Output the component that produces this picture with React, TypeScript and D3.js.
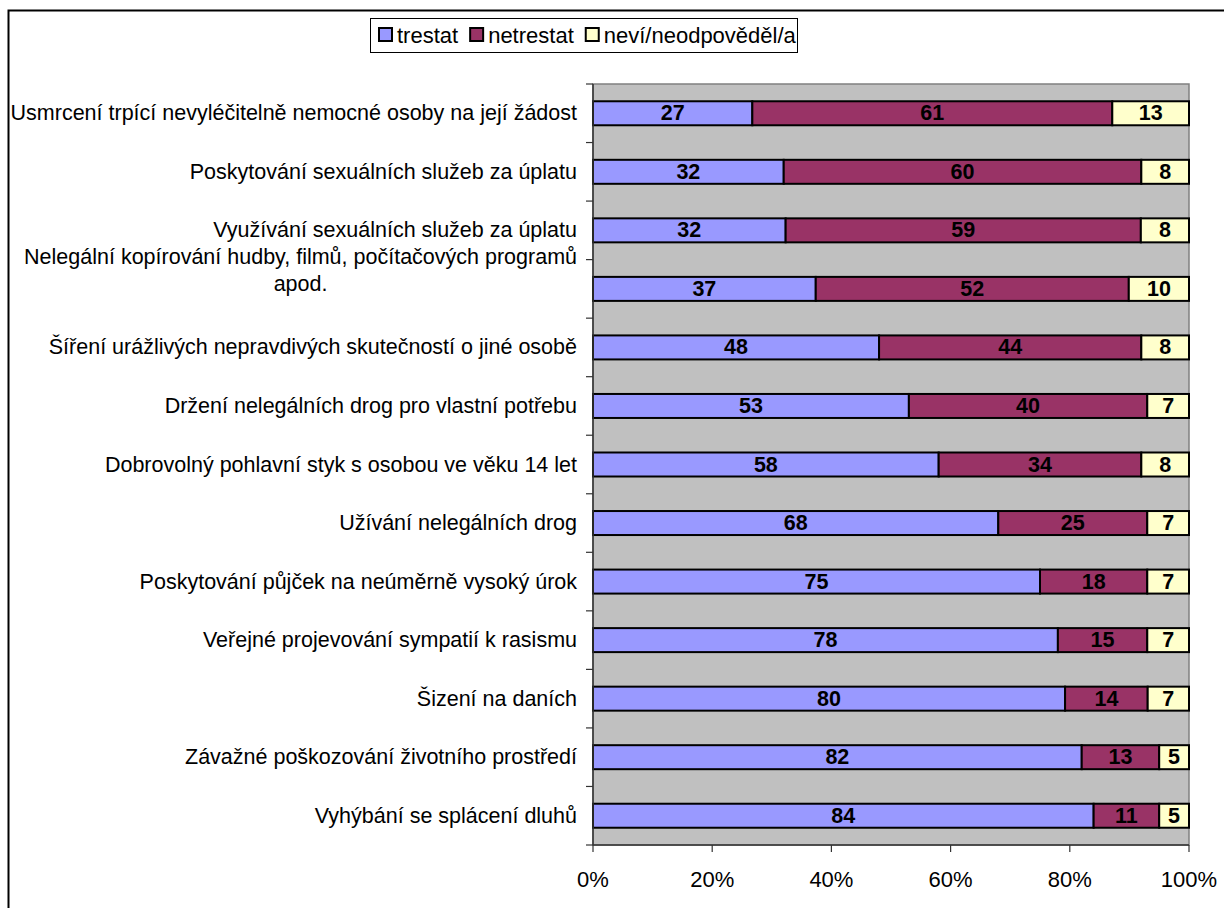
import React, { useEffect, useRef } from "react";
import * as d3 from "d3";

const categories: string[][] = [
  ["Usmrcení trpící nevyléčitelně nemocné osoby na její žádost"],
  ["Poskytování sexuálních služeb za úplatu"],
  ["Využívání sexuálních služeb za úplatu"],
  ["Nelegální kopírování hudby, filmů, počítačových programů", "apod."],
  ["Šíření urážlivých nepravdivých skutečností o jiné osobě"],
  ["Držení nelegálních drog pro vlastní potřebu"],
  ["Dobrovolný pohlavní styk s osobou ve věku 14 let"],
  ["Užívání nelegálních drog"],
  ["Poskytování půjček na neúměrně vysoký úrok"],
  ["Veřejné projevování sympatií k rasismu"],
  ["Šizení na daních "],
  ["Závažné poškozování životního prostředí"],
  ["Vyhýbání se splácení dluhů"],
];
const trestat = [27, 32, 32, 37, 48, 53, 58, 68, 75, 78, 80, 82, 84];
const netrestat = [61, 60, 59, 52, 44, 40, 34, 25, 18, 15, 14, 13, 11];
const nevi = [13, 8, 8, 10, 8, 7, 8, 7, 7, 7, 7, 5, 5];
const seriesNames = ["trestat", "netrestat", "neví/neodpověděl/a"];
const seriesColors = ["#9999FF", "#993366", "#FFFFCC"];
const xTicks = [0, 0.2, 0.4, 0.6, 0.8, 1];

const FONT = "'Liberation Sans', Arial, sans-serif";

export default function App() {
  const ref = useRef<SVGSVGElement>(null);
  useEffect(() => {
    const svg = d3.select(ref.current);
    svg.selectAll("*").remove();
    const W = 1224, H = 908;
    const left = 593, right = 1189, top = 84, bottom = 845;

    svg.append("rect").attr("x", 0).attr("y", 0).attr("width", W).attr("height", H).attr("fill", "#fff");
    svg.append("rect").attr("x", 8.5).attr("y", 10.5).attr("width", W + 20).attr("height", H + 20)
      .attr("fill", "none").attr("stroke", "#000").attr("stroke-width", 2);

    const x = d3.scaleLinear().domain([0, 1]).range([left, right]);
    const y = d3.scaleBand<number>().domain(d3.range(categories.length)).range([top, bottom]).paddingInner(0.59).paddingOuter(0.295);

    svg.append("rect").attr("x", left).attr("y", top).attr("width", right - left).attr("height", bottom - top)
      .attr("fill", "#C0C0C0").attr("stroke", "#808080").attr("stroke-width", 1.5);

    const data = categories.map((_, i) => {
      const vals = [trestat[i], netrestat[i], nevi[i]];
      const tot = d3.sum(vals);
      let acc = 0;
      return vals.map((v, s) => {
        const seg = { s, v, x0: acc / tot, x1: (acc + v) / tot };
        acc += v;
        return seg;
      });
    });

    data.forEach((segs, i) => {
      const g = svg.append("g");
      segs.forEach((d) => {
        g.append("rect").attr("x", x(d.x0)).attr("y", y(i)!).attr("width", x(d.x1) - x(d.x0)).attr("height", y.bandwidth())
          .attr("fill", seriesColors[d.s]).attr("stroke", "#000").attr("stroke-width", 2);
        g.append("text").attr("x", (x(d.x0) + x(d.x1)) / 2).attr("y", y(i)! + y.bandwidth() / 2)
          .attr("text-anchor", "middle").attr("dominant-baseline", "central")
          .attr("font-family", FONT).attr("font-size", 21.5).attr("font-weight", "bold").attr("fill", "#000")
          .text(d.v);
      });
    });

    // left axis
    svg.append("line").attr("x1", left).attr("x2", left).attr("y1", top).attr("y2", bottom).attr("stroke", "#333").attr("stroke-width", 1.5);
    d3.range(categories.length + 1).forEach((k) => {
      const yy = top + (k * (bottom - top)) / categories.length;
      svg.append("line").attr("x1", left - 7).attr("x2", left).attr("y1", yy).attr("y2", yy).attr("stroke", "#333").attr("stroke-width", 1.2);
    });
    // bottom axis
    svg.append("line").attr("x1", left).attr("x2", right).attr("y1", bottom).attr("y2", bottom).attr("stroke", "#333").attr("stroke-width", 1.5);
    xTicks.forEach((t) => {
      svg.append("line").attr("x1", x(t)).attr("x2", x(t)).attr("y1", bottom).attr("y2", bottom + 7).attr("stroke", "#333").attr("stroke-width", 1.2);
      svg.append("text").attr("x", x(t)).attr("y", bottom + 42).attr("text-anchor", "middle")
        .attr("font-family", FONT).attr("font-size", 22).attr("fill", "#000").text(d3.format(".0%")(t));
    });

    // category labels
    const CF = 21.5;
    categories.forEach((lines, i) => {
      const cy = y(i)! + y.bandwidth() / 2;
      if (lines.length === 1) {
        svg.append("text").attr("x", left - 16).attr("y", cy).attr("text-anchor", "end").attr("dominant-baseline", "central")
          .attr("font-family", FONT).attr("font-size", CF).attr("fill", "#000").text(lines[0]);
      } else {
        const t1 = svg.append("text").attr("x", left - 16).attr("y", cy - 32).attr("text-anchor", "end").attr("dominant-baseline", "central")
          .attr("font-family", FONT).attr("font-size", CF).attr("fill", "#000").text(lines[0]);
        const w = (t1.node() as SVGTextElement).getComputedTextLength();
        svg.append("text").attr("x", left - 16 - w / 2).attr("y", cy - 5).attr("text-anchor", "middle").attr("dominant-baseline", "central")
          .attr("font-family", FONT).attr("font-size", CF).attr("fill", "#000").text(lines[1]);
      }
    });

    // legend
    const lg = svg.append("g");
    lg.append("rect").attr("x", 370.5).attr("y", 18.5).attr("width", 427).attr("height", 34).attr("fill", "#fff").attr("stroke", "#000").attr("stroke-width", 1);
    let lx = 379;
    seriesNames.forEach((n, s) => {
      lg.append("rect").attr("x", lx).attr("y", 28).attr("width", 13).attr("height", 13).attr("fill", seriesColors[s]).attr("stroke", "#000").attr("stroke-width", 2);
      const t = lg.append("text").attr("x", lx + 18).attr("y", 35).attr("dominant-baseline", "central")
        .attr("font-family", FONT).attr("font-size", 22).attr("fill", "#000").text(n);
      const w = (t.node() as SVGTextElement).getComputedTextLength();
      lx += 18 + w + 12;
    });
  }, []);
  return <svg ref={ref} width={1224} height={908} style={{ position: "absolute", left: 0, top: 0 }} />;
}
